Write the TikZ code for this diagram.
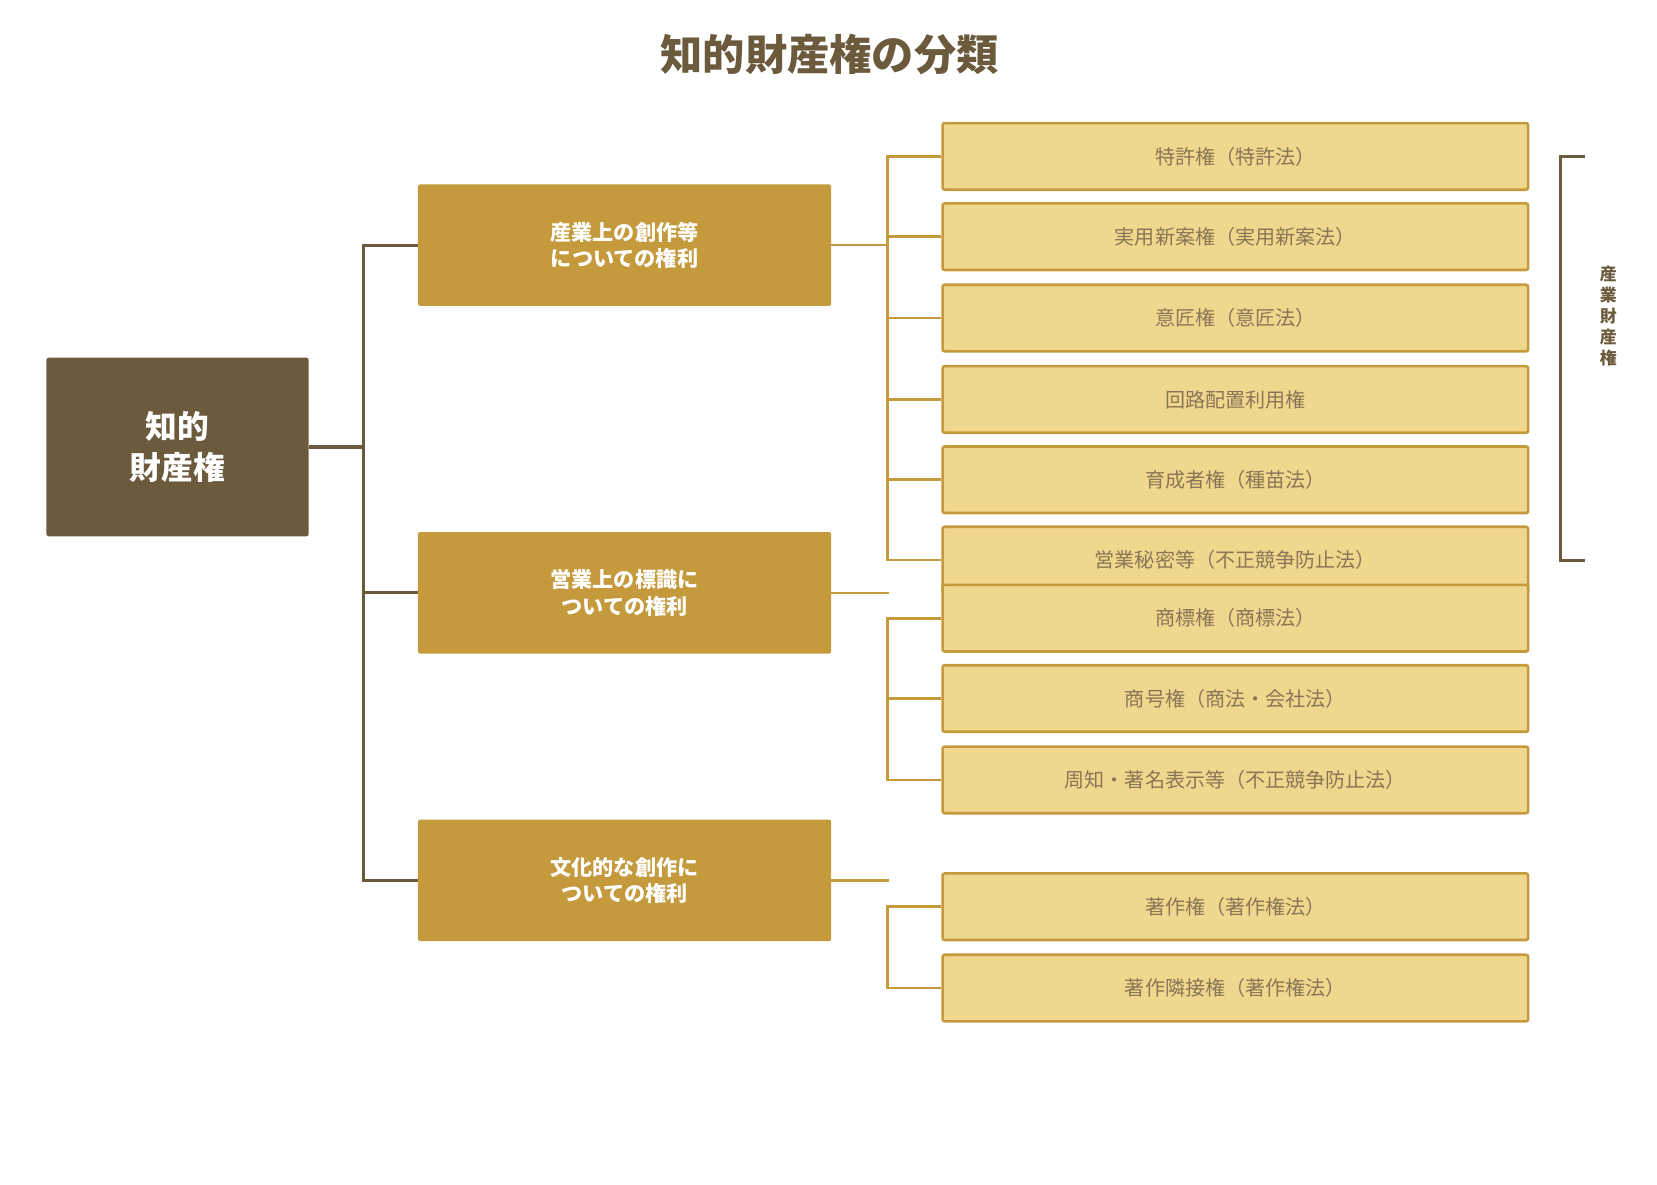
\documentclass[tikz,border=0pt]{standalone}
\usepackage{fontspec}
\setmainfont{Noto Sans CJK JP}
\usetikzlibrary{positioning}
\definecolor{ipbrown}{HTML}{6B5A3C}
\definecolor{ipgold}{HTML}{C49A3C}
\definecolor{ipcream}{HTML}{F0D78E}
\definecolor{iptext}{HTML}{8A7656}
\tikzset{
    rootbox/.style={rectangle, fill=ipbrown, text=white, font=\fontsize{30}{38}\selectfont\bfseries, minimum width=248pt, minimum height=169pt, align=center, rounded corners=2pt},
    midbox/.style={rectangle, fill=ipgold, text=white, font=\fontsize{20}{25}\selectfont\bfseries, minimum width=391pt, minimum height=115pt, align=center, rounded corners=2pt},
    leafbox/.style={rectangle, draw=ipgold, line width=2.5pt, fill=ipcream, text=iptext, font=\fontsize{19}{24}\selectfont, minimum width=554pt, minimum height=63pt, rounded corners=2pt},
    trunk/.style={draw=ipbrown, line width=3pt},
    branch/.style={draw=ipgold, line width=2.5pt}
}
\begin{document}
\begin{tikzpicture}[x=1pt,y=-1pt]
    \useasboundingbox (0,0) rectangle (1568,1121);
    % title
    \node [text=ipbrown, font=\fontsize{40}{48}\selectfont\bfseries] (title) at (785,52) {知的財産権の分類};

    % root and categories
    \node [rootbox] (root) at (168,423) {知的\\財産権};
    \node [midbox] (ind) at (591,232) {産業上の創作等\\についての権利};
    \node [midbox] (mark) at (591,561) {営業上の標識に\\ついての権利};
    \node [midbox] (cult) at (591,833) {文化的な創作に\\ついての権利};

    % leaves
    \foreach \name/\y/\txt in {p1/148/特許権（特許法）, p2/224/実用新案権（実用新案法）, p3/301/意匠権（意匠法）, p4/378/回路配置利用権, p5/454/育成者権（種苗法）, p6/530/営業秘密等（不正競争防止法）, m1/585/商標権（商標法）, m2/661/商号権（商法・会社法）, m3/738/周知・著名表示等（不正競争防止法）, c1/858/著作権（著作権法）, c2/935/著作隣接権（著作権法）}
        \node [leafbox] (\name) at (1169,\y) {\txt};

    % root tree
    \coordinate (rj) at (344,423);
    \path [trunk] (root.east) -- (rj);
    \path [trunk] (ind.west) -| (rj) |- (cult.west);
    \path [trunk] (rj) |- (mark.west);

    % industrial branch
    \coordinate (ij) at (840,232);
    \path [branch] (ind.east) -- (ij);
    \path [branch] (p1.west) -| (ij) |- (p6.west);
    \foreach \n in {p2,p3,p4,p5}
        \path [branch] (ij |- \n.west) -- (\n.west);

    % mark branch
    \coordinate (mj) at (841,561);
    \path [branch] (mark.east) -- (mj);
    \path [branch] (m1.west) -| ([xshift=-1pt]mj |- m3.west) -- (m3.west);
    \path [branch] ([xshift=-1pt]mj |- m2.west) -- (m2.west);

    % cultural branch
    \coordinate (cj) at (841,833);
    \path [branch] (cult.east) -- (cj);
    \path [branch] (c1.west) -| ([xshift=-1pt]cj |- c2.west) -- (c2.west);

    % bracket
    \coordinate (bt) at (1500,148);
    \coordinate (bb) at (1500,530);
    \path [trunk] (bt) -- ++(-23,0) |- (bb);
    \node [text=ipbrown, font=\fontsize{16}{20}\selectfont\bfseries, align=center] (brlabel) at (1522,299) {産\\業\\財\\産\\権};
\end{tikzpicture}
\end{document}
